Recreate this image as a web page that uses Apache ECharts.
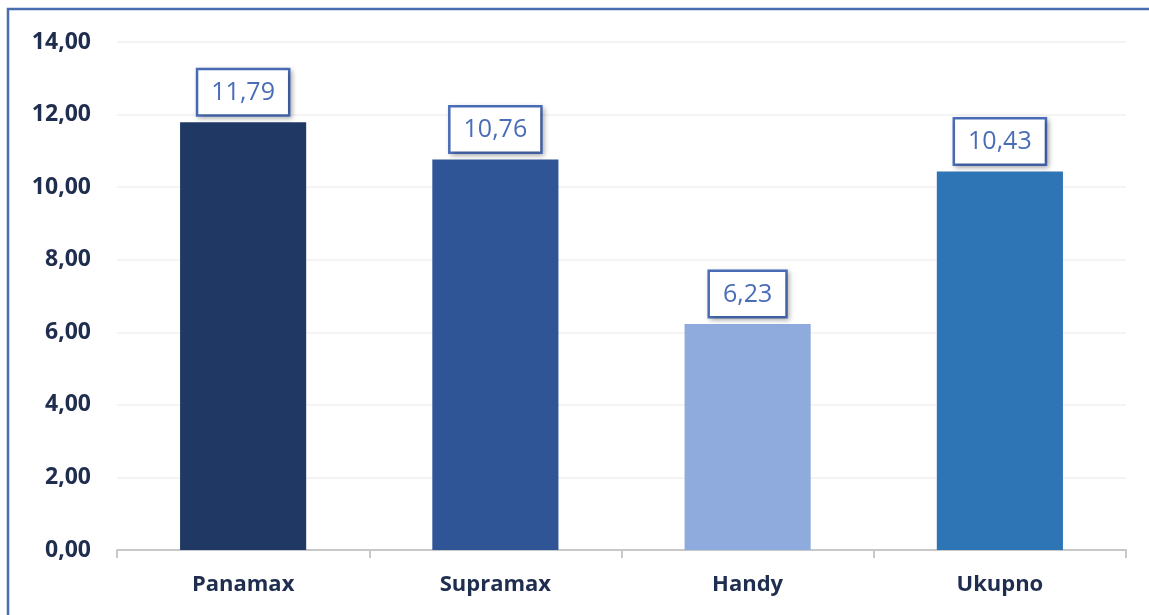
<!DOCTYPE html>
<html>
<head>
<meta charset="utf-8">
<script src="https://cdn.jsdelivr.net/npm/echarts@6/dist/echarts.min.js"></script>
<style>
html,body{margin:0;padding:0;background:#fff;}
#c{width:1149px;height:615px;}
</style>
</head>
<body>
<div id="c"></div>
<script>
const categories = ['Panamax', 'Supramax', 'Handy', 'Ukupno'];
const values = [11.79, 10.76, 6.23, 10.43];
const barColors = ['#1f3864', '#2f5597', '#8faadc', '#2e75b6'];
const yTicks = [0, 2, 4, 6, 8, 10, 12, 14];

const fmt = v => Number(v).toFixed(2).replace('.', ',');

const chart = echarts.init(document.getElementById('c'));
chart.setOption({
  animation: false,
  backgroundColor: '#fff',
  textStyle: { fontFamily: 'Open Sans' },
  graphic: [{
    type: 'rect',
    shape: { x: 8, y: 9, width: 1200, height: 700 },
    style: { fill: 'none', stroke: '#4a6db0', lineWidth: 2.5 },
    silent: true
  }],
  grid: { left: 117, right: 23, top: 42, bottom: 65 },
  xAxis: {
    type: 'category',
    data: categories,
    axisLine: { lineStyle: { color: '#c8c8c8', width: 2 } },
    axisTick: { show: true, length: 8, lineStyle: { color: '#c8c8c8', width: 2 } },
    axisLabel: { fontFamily: 'Open Sans', fontSize: 22, fontWeight: 'bold', color: '#1f2d4f', margin: 24 }
  },
  yAxis: {
    type: 'value',
    min: yTicks[0],
    max: yTicks[yTicks.length - 1],
    interval: 2,
    axisLine: { show: false },
    axisTick: { show: false },
    splitLine: { lineStyle: { color: '#f0f0f0', width: 1.5 } },
    axisLabel: { fontFamily: 'Open Sans', fontSize: 23, fontWeight: 'bold', color: '#1f2d4f', margin: 26, formatter: fmt }
  },
  series: [{
    type: 'bar',
    barWidth: '50%',
    data: values.map((v, i) => ({ value: v, itemStyle: { color: barColors[i] } })),
    label: {
      show: true,
      position: 'top',
      distance: 8,
      formatter: p => fmt(p.value),
      fontFamily: 'Open Sans',
      fontSize: 25,
      color: '#4a6db8',
      backgroundColor: '#fff',
      borderColor: '#4a6db8',
      borderWidth: 2.5,
      padding: [10, 13, 9, 13],
      shadowColor: 'rgba(0,0,0,0.25)',
      shadowBlur: 5,
      shadowOffsetX: 2,
      shadowOffsetY: 2
    }
  }]
});
</script>
</body>
</html>
